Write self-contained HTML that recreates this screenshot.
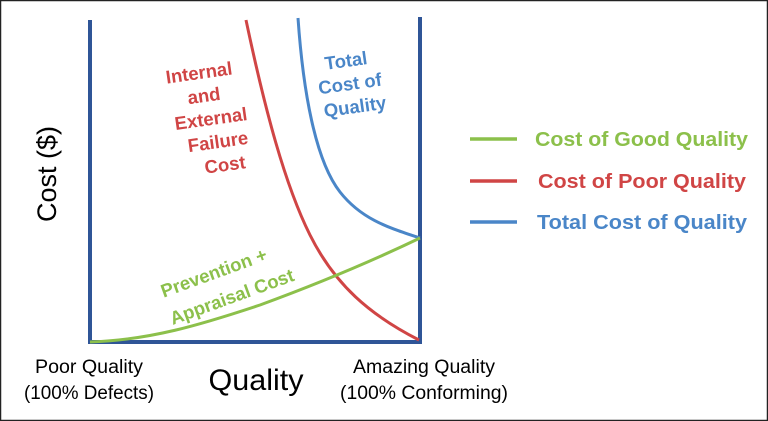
<!DOCTYPE html>
<html><head><style>
html,body{margin:0;padding:0;background:#fff}
svg{display:block}
text{font-family:"Liberation Sans",sans-serif}
</style></head><body>
<svg width="768" height="421" viewBox="0 0 768 421">
<rect x="0.5" y="0.5" width="767" height="420" fill="#fff" stroke="#222" stroke-width="1.5"/>
<path d="M90 20 V342 H420 V17" fill="none" stroke="#2f5597" stroke-width="4"/>
<path d="M246 20 C265 110,285 185,310 235 C335 285,370 315,419 340" fill="none" stroke="#d04545" stroke-width="3"/>
<path d="M298 18 C303 90,315 160,340 192 C362 220,390 228,420 238" fill="none" stroke="#4a86c8" stroke-width="3"/>
<path d="M90 342 C150 340,200 325,260 305 C320 283,370 262,420 238" fill="none" stroke="#8cc04b" stroke-width="3"/>
<g font-weight="bold" font-size="18.5" fill="#d04545" text-anchor="middle">
<text x="199" y="79" transform="rotate(-8 199 73)">Internal</text>
<text x="204" y="102" transform="rotate(-8 204 96)">and</text>
<text x="211" y="125" transform="rotate(-8 211 119)">External</text>
<text x="218" y="148" transform="rotate(-8 218 142)">Failure</text>
<text x="225" y="171" transform="rotate(-8 225 165)">Cost</text>
</g>
<g font-weight="bold" font-size="18.5" fill="#4a86c8" text-anchor="middle">
<text x="346" y="67" transform="rotate(-8 346 61)">Total</text>
<text x="350" y="90" transform="rotate(-8 350 84)">Cost of</text>
<text x="355" y="113" transform="rotate(-8 355 107)">Quality</text>
</g>
<g font-weight="bold" font-size="18.5" fill="#8cc04b" text-anchor="middle">
<text x="214" y="279" transform="rotate(-20 214 273)">Prevention +</text>
<text x="232" y="303" transform="rotate(-20 232 297)">Appraisal Cost</text>
</g>
<text x="60" y="178" font-size="27" fill="#000" text-anchor="middle" transform="rotate(-90 56 178)">Cost ($)</text>
<text x="256" y="390" font-size="30" fill="#000" text-anchor="middle" textLength="95" lengthAdjust="spacingAndGlyphs">Quality</text>
<g font-size="19" fill="#000" text-anchor="middle">
<text x="89" y="373" textLength="108" lengthAdjust="spacingAndGlyphs">Poor Quality</text>
<text x="89" y="399" textLength="130" lengthAdjust="spacingAndGlyphs">(100% Defects)</text>
<text x="424" y="373" textLength="142" lengthAdjust="spacingAndGlyphs">Amazing Quality</text>
<text x="424" y="399" textLength="168" lengthAdjust="spacingAndGlyphs">(100% Conforming)</text>
</g>
<line x1="470" y1="139" x2="517" y2="139" stroke="#8cc04b" stroke-width="3.5"/>
<line x1="470" y1="181" x2="517" y2="181" stroke="#d04545" stroke-width="3.5"/>
<line x1="470" y1="222" x2="517" y2="222" stroke="#4a86c8" stroke-width="3.5"/>
<g font-weight="bold" font-size="20.5">
<text x="535" y="146" fill="#8cc04b" textLength="213" lengthAdjust="spacingAndGlyphs">Cost of Good Quality</text>
<text x="538" y="188" fill="#d04545" textLength="208" lengthAdjust="spacingAndGlyphs">Cost of Poor Quality</text>
<text x="537" y="229" fill="#4a86c8" textLength="210" lengthAdjust="spacingAndGlyphs">Total Cost of Quality</text>
</g>
</svg>
</body></html>
